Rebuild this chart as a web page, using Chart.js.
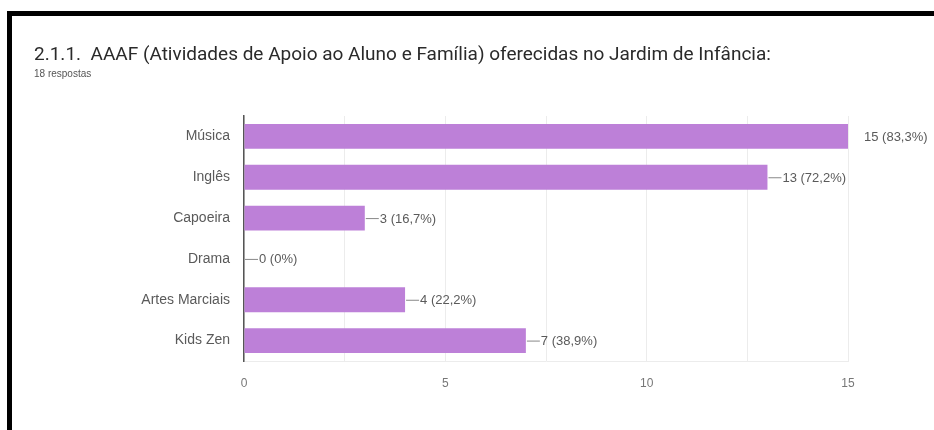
<!DOCTYPE html>
<html>
<head>
<meta charset="utf-8">
<script src="https://cdn.jsdelivr.net/npm/chart.js@4"></script>
<style>
  html, body { margin: 0; padding: 0; background: #fff; }
  #wrap { width: 934px; height: 430px; position: relative; }
</style>
</head>
<body>
<div id="wrap"><canvas id="chart"></canvas></div>
<script>
// Respostas por atividade
const categories = ["Música", "Inglês", "Capoeira", "Drama", "Artes Marciais", "Kids Zen"];
const counts = [15, 13, 3, 0, 4, 7];
const totalRespostas = 18;
const tickValues = [0, 5, 10, 15];

const titleText = "2.1.1.  AAAF (Atividades de Apoio ao Aluno e Família) oferecidas no Jardim de Infância:";
const subtitleText = totalRespostas + " respostas";

function pctLabel(v) {
  const p = Math.round(v / totalRespostas * 1000) / 10;
  return v + " (" + String(p).replace(".", ",") + "%)";
}

// Moldura preta à volta do gráfico
const framePlugin = {
  id: "frame",
  beforeDraw(chart) {
    const ctx = chart.ctx;
    ctx.save();
    ctx.fillStyle = "#fff";
    ctx.fillRect(0, 0, chart.width, chart.height);
    ctx.strokeStyle = "#000";
    ctx.lineWidth = 5;
    ctx.strokeRect(9.5, 13.5, chart.width + 20, chart.height + 20);
    ctx.restore();
  }
};

// Rótulos de valor com linha de ligação
const valueLabels = {
  id: "valueLabels",
  afterDatasetsDraw(chart) {
    const ctx = chart.ctx;
    const meta = chart.getDatasetMeta(0);
    const xMax = chart.scales.x.max;
    ctx.save();
    ctx.font = "13px 'Liberation Sans', Arial, sans-serif";
    ctx.textBaseline = "middle";
    ctx.textAlign = "left";
    meta.data.forEach((bar, i) => {
      const v = counts[i];
      const x = bar.x;
      const y = bar.y;
      ctx.fillStyle = "#5a5a5a";
      if (v < xMax) {
        ctx.strokeStyle = "#888";
        ctx.lineWidth = 1;
        ctx.beginPath();
        ctx.moveTo(x + 1, y + 0.5);
        ctx.lineTo(x + 14, y + 0.5);
        ctx.stroke();
        ctx.fillText(pctLabel(v), x + 15, y + 1);
      } else {
        ctx.fillText(pctLabel(v), x + 16, y + 1);
      }
    });
    ctx.restore();
  }
};

new Chart(document.getElementById("chart"), {
  type: "bar",
  data: {
    labels: categories,
    datasets: [{
      data: counts,
      backgroundColor: "#bd80d8",
      borderWidth: 0,
      categoryPercentage: 1,
      barPercentage: 0.61
    }]
  },
  options: {
    indexAxis: "y",
    responsive: true,
    maintainAspectRatio: false,
    animation: false,
    layout: { padding: { left: 34, right: 86, top: 0, bottom: 0 } },
    plugins: {
      legend: { display: false },
      tooltip: { enabled: false },
      title: {
        display: true,
        text: titleText,
        align: "start",
        color: "#2a2a2a",
        font: { family: "Roboto, 'Liberation Sans', Arial, sans-serif", size: 19, weight: "normal" },
        padding: { top: 44, bottom: 0 }
      },
      subtitle: {
        display: true,
        text: subtitleText,
        align: "start",
        color: "#555",
        font: { family: "'Liberation Sans', Arial, sans-serif", size: 10 },
        padding: { top: 1, bottom: 36.2 }
      }
    },
    scales: {
      x: {
        type: "linear",
        min: 0,
        max: 15,
        afterBuildTicks(scale) {
          const t = [];
          for (let v = 0; v <= 15; v += 2.5) t.push({ value: v });
          scale.ticks = t;
        },
        ticks: {
          color: "#777",
          font: { family: "'Liberation Sans', Arial, sans-serif", size: 12 },
          padding: 15,
          autoSkip: false,
          maxRotation: 0,
          callback(v) { return tickValues.includes(v) ? String(v) : ""; }
        },
        grid: { color: "#ececec", drawTicks: false },
        border: { display: true, color: "#ececec" },
        afterFit(scale) { scale.height = 69; }
      },
      y: {
        ticks: {
          color: "#5a5a5a",
          font: { family: "'Liberation Sans', Arial, sans-serif", size: 14 },
          padding: 14
        },
        grid: { display: false, drawTicks: false },
        border: { display: true, color: "#555", width: 1.5 },
        afterFit(scale) { scale.width = 210; }
      }
    }
  },
  plugins: [framePlugin, valueLabels]
});
</script>
</body>
</html>
